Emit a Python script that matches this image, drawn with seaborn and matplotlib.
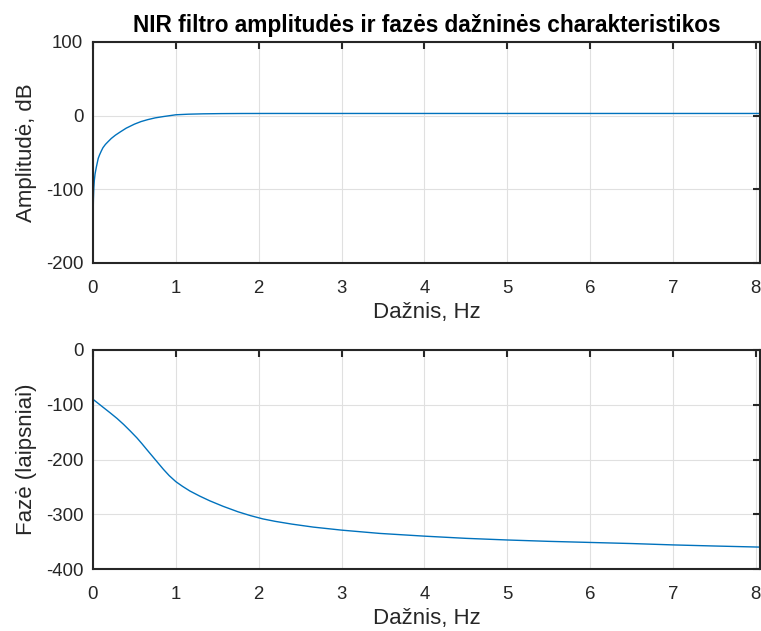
import matplotlib
matplotlib.use("Agg")
import matplotlib.pyplot as plt
import seaborn as sns
import pandas as pd

# ---- data ----
amp_freq = [0.0, 0.0005, 0.001, 0.002, 0.005, 0.01, 0.016, 0.025, 0.04, 0.063,
            0.08, 0.1, 0.12, 0.15, 0.18, 0.22, 0.27, 0.33, 0.4, 0.5, 0.58, 0.66,
            0.75, 0.85, 1.0, 1.15, 1.33, 1.55, 1.8, 2.2, 3.0, 4.0, 5.0, 6.0,
            7.0, 8.05]
amp_db = [-179, -160, -150, -133, -113, -98, -88, -79, -70, -58,
          -53, -48, -43.5, -39, -35.5, -31, -26.5, -22, -17, -11.5, -8, -5.4,
          -3.0, -1.2, 1.2, 2.0, 2.5, 2.8, 2.95, 3.0, 3.0, 3.0, 3.0, 3.0,
          3.0, 3.0]

ph_freq = [0.0, 0.1, 0.209, 0.29, 0.37, 0.45, 0.53, 0.59, 0.65, 0.75, 0.85,
           0.92, 1.0, 1.08, 1.17, 1.29, 1.41, 1.57, 1.75, 1.9, 2.05, 2.2, 2.4,
           2.66, 3.0, 3.46, 4.0, 4.5, 5.0, 5.5, 6.0, 6.5, 7.0, 7.5, 8.05]
ph_deg = [-90, -102, -115, -125, -136, -148, -160.5, -171, -182, -200, -218,
          -229.5, -240.5, -249, -257.6, -267, -275.5, -285.5, -295.5, -302.5,
          -308.5, -313, -318, -323.5, -329, -335, -340, -344, -347, -349.5,
          -351.5, -353.5, -356, -358, -360]

x_ticks = [0, 1, 2, 3, 4, 5, 6, 7, 8]
amp_ticks = [-200, -100, 0, 100]
ph_ticks = [-400, -300, -200, -100, 0]

title = "NIR filtro amplitudės ir fazės dažninės charakteristikos"
xlabel = "Dažnis, Hz"
amp_label = "Amplitudė, dB"
ph_label = "Fazė (laipsniai)"

sns.set_theme(style="white")
plt.rcParams["font.family"] = ["Liberation Sans", "DejaVu Sans"]

LINE = "#0072BD"
DARK = "#262626"

fig = plt.figure(figsize=(7.61, 6.31), dpi=100)
ax1 = fig.add_axes([93 / 761, 1 - 263 / 631, 667 / 761, 221 / 631])
ax2 = fig.add_axes([93 / 761, 1 - 569 / 631, 667 / 761, 219 / 631])

df_amp = pd.DataFrame({"f": amp_freq, "v": amp_db})
df_ph = pd.DataFrame({"f": ph_freq, "v": ph_deg})

sns.lineplot(data=df_amp, x="f", y="v", ax=ax1, color=LINE, linewidth=1.0,
             sort=False, estimator=None)
sns.lineplot(data=df_ph, x="f", y="v", ax=ax2, color=LINE, linewidth=1.0,
             sort=False, estimator=None)

for ax, yt, lab in [(ax1, amp_ticks, amp_label), (ax2, ph_ticks, ph_label)]:
    ax.set_xlim(0, 8.05)
    ax.set_ylim(yt[0], yt[-1])
    ax.set_xticks(x_ticks)
    ax.set_yticks(yt)
    ax.set_xticklabels([str(t) for t in x_ticks])
    ax.set_yticklabels([str(t) for t in yt])
    ax.grid(True, color="#e0e0e0", linewidth=0.8)
    ax.set_axisbelow(True)
    for s in ax.spines.values():
        s.set_visible(True)
        s.set_color(DARK)
        s.set_linewidth(1.5)
    ax.tick_params(direction="in", length=5, width=1.5, color=DARK,
                   top=True, right=True, labelsize=13.4, labelcolor=DARK)
    ax.tick_params(axis="x", pad=12)
    ax.tick_params(axis="y", pad=7)
    ax.set_xlabel(xlabel, fontsize=16, color=DARK, labelpad=4)
    ax.set_ylabel(lab, fontsize=16, color=DARK, labelpad=6)

ax1.set_title(title, fontsize=16.3, fontweight="bold", color="black", pad=7)

fig.savefig("out.png", dpi=100)
